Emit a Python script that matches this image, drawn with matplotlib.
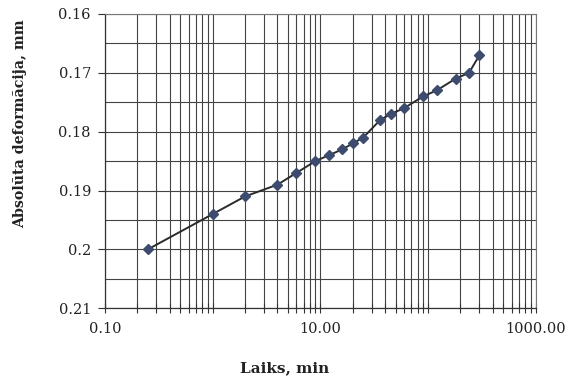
import matplotlib.pyplot as plt
import numpy as np
from matplotlib.ticker import FixedLocator, LogLocator, NullFormatter, FuncFormatter

# Consolidation test readings
time_min = [0.25, 1, 2, 4, 6, 9, 12, 16, 20, 25, 36, 45, 60, 90, 120, 180, 240, 300]
deformation_mm = [0.200, 0.194, 0.191, 0.189, 0.187, 0.185, 0.184, 0.183, 0.182,
                  0.181, 0.178, 0.177, 0.176, 0.174, 0.173, 0.171, 0.170, 0.167]

y_ticks = [0.16, 0.17, 0.18, 0.19, 0.2, 0.21]
y_tick_labels = ["0.16", "0.17", "0.18", "0.19", "0.2", "0.21"]
x_tick_values = [0.1, 10, 1000]

plt.rcParams["font.family"] = ["DejaVu Serif"]

fig = plt.figure(figsize=(5.7, 3.76), dpi=100)
ax = fig.add_axes([0.184, 0.18, 0.756, 0.783])

grid_color = "#444444"

ax.plot(time_min, deformation_mm, color="#2b2b2b", linewidth=1.4,
        marker="D", markersize=4.8, markerfacecolor="#3c4b6e",
        markeredgecolor="#3c4b6e", zorder=3)

ax.set_xscale("log")
ax.set_xlim(0.1, 1000)
ax.set_ylim(0.21, 0.16)

# x: labels every second decade, grid on every decade and its minors
ax.xaxis.set_major_locator(FixedLocator(x_tick_values))
ax.xaxis.set_major_formatter(FuncFormatter(lambda v, p: f"{v:.2f}"))
ax.xaxis.set_minor_locator(LogLocator(base=10, subs=np.arange(1, 10), numticks=50))
ax.xaxis.set_minor_formatter(NullFormatter())
ax.grid(True, which="both", axis="x", color=grid_color, linewidth=0.8)

# y: labels every 0.01, grid every 0.005
ax.set_yticks(y_ticks)
ax.set_yticklabels(y_tick_labels)
ax.set_yticks(np.arange(0.165, 0.21, 0.01), minor=True)
ax.grid(True, which="both", axis="y", color=grid_color, linewidth=0.8)

ax.tick_params(axis="x", which="both", direction="inout", length=7, width=0.8,
               colors="#333333", labelcolor="#222222", labelsize=10.5, pad=6)
ax.tick_params(axis="y", which="major", direction="out", length=5, width=0.8,
               colors="#333333", labelcolor="#222222", labelsize=10.5, pad=5)
ax.tick_params(axis="y", which="minor", length=0)

for side in ["top", "right"]:
    ax.spines[side].set_color("#777777")
    ax.spines[side].set_linewidth(0.8)
for side in ["left", "bottom"]:
    ax.spines[side].set_color("#333333")
    ax.spines[side].set_linewidth(0.9)

# axis titles sit where the chart area places them, not centred on the plot
fig.text(0.5, 0.022, "Laiks, min", fontsize=11, fontweight="bold",
         ha="center", va="center", color="#222222")
fig.text(0.036, 0.67, "Absolūta deformācija, mm", fontsize=10.2,
         fontweight="bold", rotation=90, ha="center", va="center", color="#222222")

fig.savefig("out.png", dpi=100)
plt.close(fig)
